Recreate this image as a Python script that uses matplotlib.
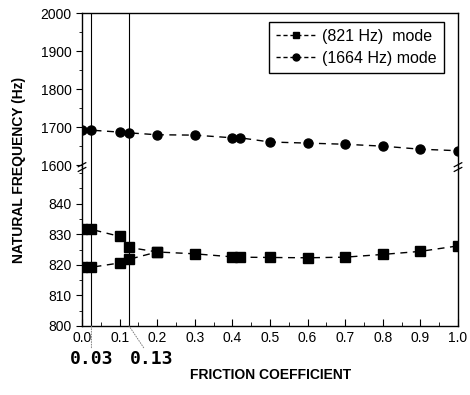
import matplotlib
matplotlib.use("Agg")
import matplotlib.pyplot as plt
from matplotlib.lines import Line2D
from matplotlib.ticker import MultipleLocator

plt.rcParams['font.family'] = ['Liberation Sans', 'DejaVu Sans']

# --- Data ---
fric_hi = [0.0, 0.025, 0.1, 0.125, 0.2, 0.3, 0.4, 0.42, 0.5, 0.6, 0.7, 0.8, 0.9, 1.0]
freq_hi = [1692, 1692, 1687, 1685, 1680, 1679, 1672, 1672, 1661, 1658, 1655, 1650, 1642, 1638]

# 821 Hz mode splits into two branches at low friction
fric_lo_a = [0.0, 0.025, 0.1, 0.125, 0.2, 0.3, 0.4, 0.42, 0.5, 0.6, 0.7, 0.8, 0.9, 1.0]
freq_lo_a = [831.8, 831.6, 829.3, 825.7, 824.2, 823.6, 822.6, 822.5, 822.4, 822.3, 822.5, 823.4, 824.4, 826.2]
fric_lo_b = [0.0, 0.025, 0.1, 0.125, 0.2]
freq_lo_b = [819.2, 819.2, 820.6, 821.8, 824.2]

mark_x = [0.025, 0.125]
mark_labels = ['0.03', '0.13']

# --- Figure ---
fig = plt.figure(figsize=(4.7, 3.95), dpi=100)
ax_top = fig.add_axes([0.1745, 0.577, 0.80, 0.390])
ax_bot = fig.add_axes([0.1745, 0.175, 0.80, 0.402])

dash = (0, (5, 4))
ax_top.plot(fric_hi, freq_hi, color='black', ls=dash, lw=1, marker='o', ms=6.5)
ax_bot.plot(fric_lo_a, freq_lo_a, color='black', ls=dash, lw=1, marker='s', ms=6.5)
ax_bot.plot(fric_lo_b, freq_lo_b, color='black', ls=dash, lw=1, marker='s', ms=6.5)

for ax in (ax_top, ax_bot):
    ax.set_xlim(0, 1.0)
    for xv in mark_x:
        ax.axvline(xv, color='black', lw=0.8)
    ax.xaxis.set_minor_locator(MultipleLocator(0.05))
    ax.tick_params(axis='y', which='both', direction='out', labelsize=10)
    ax.tick_params(axis='y', which='major', length=4)
    ax.tick_params(axis='y', which='minor', length=2)
    ax.tick_params(axis='x', which='both', direction='in', top=False, labelsize=10)
    ax.tick_params(axis='x', which='major', length=5)
    ax.tick_params(axis='x', which='minor', length=3)
    for s in ax.spines.values():
        s.set_linewidth(1.0)

ax_top.set_ylim(1595, 2000)
ax_top.set_yticks([1600, 1700, 1800, 1900, 2000])
ax_top.yaxis.set_minor_locator(MultipleLocator(50))
ax_top.spines['bottom'].set_visible(False)
ax_top.tick_params(axis='x', which='both', bottom=False, labelbottom=False)

ax_bot.set_ylim(800, 852)
ax_bot.set_yticks([800, 810, 820, 830, 840])
ax_bot.yaxis.set_minor_locator(MultipleLocator(5))
ax_bot.spines['top'].set_visible(False)
ax_bot.set_xticks([0.0, 0.1, 0.2, 0.3, 0.4, 0.5, 0.6, 0.7, 0.8, 0.9, 1.0])
ax_bot.set_xticklabels(['0.0', '0.1', '0.2', '0.3', '0.4', '0.5', '0.6', '0.7', '0.8', '0.9', '1.0'])

# break marks on left and right spines
for xf in (0.1745, 0.9745):
    for dy in (-0.006, 0.006):
        fig.add_artist(Line2D([xf - 0.008, xf + 0.008], [0.572 + dy, 0.582 + dy],
                              color='black', lw=0.9, transform=fig.transFigure))

# labels under the axis for the two vertical lines
for xv, lab, dx in zip(mark_x, mark_labels, [0.0, 0.06]):
    ax_bot.annotate(lab, xy=(xv, 800), xycoords='data',
                    xytext=(xv + dx, -0.155), textcoords=('data', 'axes fraction'),
                    ha='center', va='top', fontsize=13, fontweight='bold',
                    family='DejaVu Sans Mono',
                    arrowprops=dict(arrowstyle='-', ls=':', lw=0.7, color='gray',
                                    shrinkA=0, shrinkB=0))

leg_handles = [
    Line2D([], [], color='black', ls=(0, (3, 2)), lw=1, marker='s', ms=4),
    Line2D([], [], color='black', ls=(0, (3, 2)), lw=1, marker='o', ms=5),
]
ax_top.legend(leg_handles, ['(821 Hz)  mode', '(1664 Hz) mode'], loc='upper right',
              bbox_to_anchor=(0.975, 0.975), fontsize=11.5, frameon=True, fancybox=False,
              edgecolor='black', framealpha=1, handlelength=2.6, handletextpad=0.3,
              borderpad=0.45, labelspacing=0.45, borderaxespad=0.3)

fig.text(0.04, 0.57, 'NATURAL FREQUENCY (Hz)', rotation=90, ha='center', va='center',
         fontsize=10, fontweight='bold')
fig.text(0.575, 0.05, 'FRICTION COEFFICIENT', ha='center', va='center',
         fontsize=10, fontweight='bold')

fig.savefig('out.png', dpi=100)
